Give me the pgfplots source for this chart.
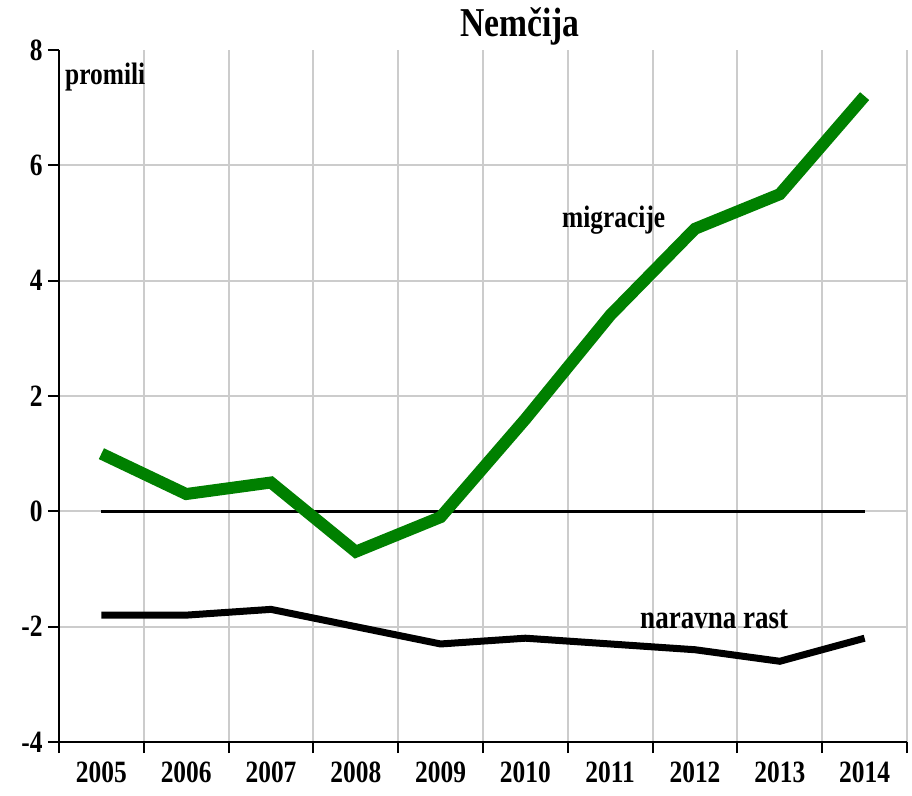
\documentclass[border=0pt]{standalone}
\usepackage{fontspec}
\setmainfont{Liberation Serif}[FakeStretch=0.82]
\usepackage{pgfplots}
\pgfplotsset{compat=1.18}
\definecolor{mig}{RGB}{0,128,0}
\definecolor{gridgray}{RGB}{204,204,204}
\begin{document}
\begin{tikzpicture}
\path[use as bounding box] (-59pt,-53pt) rectangle (853pt,742pt);
\begin{axis}[
  at={(0pt,0pt)}, anchor=south west,
  scale only axis, width=848pt, height=692pt,
  xmin=-0.5, xmax=9.5, ymin=-4, ymax=8,
  axis x line*=bottom, axis y line*=left,
  axis line style={line width=2.6pt, black},
  xtick={-0.5,0.5,...,9.5}, xticklabels={},
  extra x ticks={0,1,...,9},
  extra x tick labels={2005,2006,2007,2008,2009,2010,2011,2012,2013,2014},
  extra x tick style={major tick length=0pt, grid=none, xticklabel style={yshift=-16pt}},
  ytick={-4,-2,0,2,4,6},
  extra y ticks={8}, extra y tick style={grid=none},
  tick align=outside,
  major tick length=11pt,
  tick style={black, line width=2pt},
  grid=major,
  major grid style={gridgray, line width=2pt},
  /pgf/number format/assume math mode=true,
  ticklabel style={font=\bfseries\fontsize{31}{33}\selectfont},
  yticklabel style={xshift=-2pt},
]
\addplot[black, line width=2.6pt] coordinates {(0,0) (9,0)};
\addplot[mig, line width=12pt] coordinates {
 (0,1.0) (1,0.3) (2,0.5) (3,-0.7) (4,-0.1) (5,1.6) (6,3.4) (7,4.9) (8,5.5) (9,7.2)};
\addplot[black, line width=7pt] coordinates {
 (0,-1.8) (1,-1.8) (2,-1.7) (3,-2.0) (4,-2.3) (5,-2.2) (6,-2.3) (7,-2.4) (8,-2.6) (9,-2.2)};
\end{axis}
\node[anchor=base, font=\bfseries\fontsize{41}{43}\selectfont] at (461pt,705pt) {Nemčija};
\node[anchor=base west, inner sep=0pt, font=\bfseries\fontsize{31}{33}\selectfont] at (6pt,657pt) {promili};
\node[anchor=base west, inner sep=0pt, font=\bfseries\fontsize{31}{33}\selectfont] at (503pt,514pt) {migracije};
\node[anchor=base west, inner sep=0pt, font=\bfseries\fontsize{33}{35}\selectfont] at (581pt,114pt) {naravna rast};
\end{tikzpicture}
\end{document}
